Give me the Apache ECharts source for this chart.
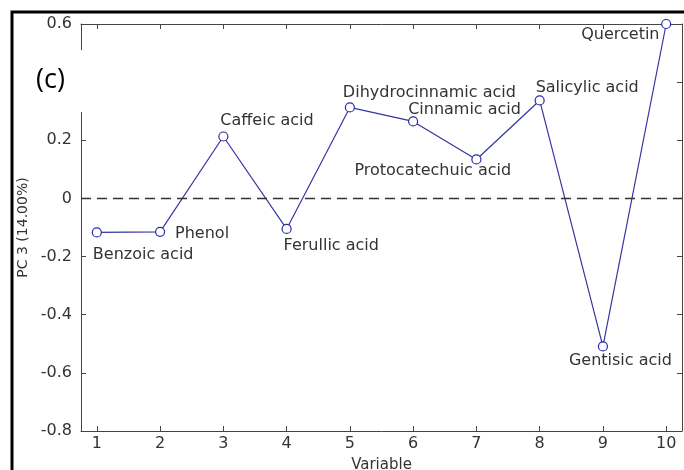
<!DOCTYPE html>
<html><head><meta charset="utf-8">
<script src="https://cdn.jsdelivr.net/npm/echarts@6/dist/echarts.min.js"></script>
<style>html,body{margin:0;padding:0;background:#fff}#c{width:684px;height:470px}</style>
</head><body><div id="c"></div>
<script>
var variables = [1, 2, 3, 4, 5, 6, 7, 8, 9, 10];
var names = ['Benzoic acid','Phenol','Caffeic acid','Ferullic acid','Dihydrocinnamic acid','Cinnamic acid','Protocatechuic acid','Salicylic acid','Gentisic acid','Quercetin'];
var pc3 = [-0.117, -0.115, 0.213, -0.105, 0.313, 0.265, 0.134, 0.337, -0.509, 0.600];
var yTicks = [-0.8, -0.6, -0.4, -0.2, 0, 0.2, 0.4, 0.6];
var labelOffsets = [[-4,22],[15,2],[-3,-16],[-3,17],[-7,-15],[-5,-12],[-122,11],[-4,-13],[-34,14],[-85,11]];

var chart = echarts.init(document.getElementById('c'));
var font = 'DejaVu Sans, sans-serif';
var fs = 16;
var data = variables.map(function(v,i){
  return {value:[v, pc3[i]], label:{show:true, formatter:names[i], position:'inside', align:'left', verticalAlign:'middle', offset:labelOffsets[i], color:'#333', fontSize:fs, fontFamily:font}};
});
function axLine(){ return {show:true, onZero:false, lineStyle:{color:'#444', width:1}}; }
function tick(cv){ var t = {show:true, inside:true, length:5, lineStyle:{color:'#444'}}; if(cv) t.customValues = cv; return t; }
chart.setOption({
  animation:false,
  grid:{left:81, right:2, top:24, bottom:39, containLabel:false, outerBoundsMode:'none'},
  xAxis:[
    {type:'value', min:0.75, max:10.25, position:'bottom',
      name:'Variable', nameLocation:'middle', nameGap:27, nameTextStyle:{color:'#333', fontSize:15, fontFamily:font},
      axisLine:axLine(), axisTick:tick(variables), splitLine:{show:false},
      axisLabel:{customValues:variables, color:'#333', fontSize:fs, fontFamily:font, margin:5}},
    {type:'value', min:0.75, max:10.25, position:'top',
      axisLine:axLine(), axisTick:tick(variables), splitLine:{show:false}, axisLabel:{show:false}}
  ],
  yAxis:[
    {type:'value', min:-0.8, max:0.6, interval:0.2, position:'left',
      name:'PC 3 (14.00%)', nameLocation:'middle', nameGap:43, nameTextStyle:{color:'#333', fontSize:14, fontFamily:font},
      axisLine:axLine(), axisTick:tick(), splitLine:{show:false},
      axisLabel:{color:'#333', fontSize:fs, fontFamily:font, margin:9, formatter:function(v){return Math.abs(v)<1e-9?'0':String(+v.toFixed(1));}}},
    {type:'value', min:-0.8, max:0.6, interval:0.2, position:'right',
      axisLine:axLine(), axisTick:tick(), splitLine:{show:false}, axisLabel:{show:false}}
  ],
  series:[{
    type:'line', data:data, symbol:'circle', symbolSize:9,
    lineStyle:{color:'#3535a0', width:1.2},
    itemStyle:{color:'#fff', borderColor:'#2a2aa8', borderWidth:1.2},
    markLine:{silent:true, symbol:'none', label:{show:false}, data:[{yAxis:0}],
      lineStyle:{color:'#333', type:[10,6], width:1.3}}
  }],
  graphic:[
    {type:'rect', shape:{x:30, y:50, width:62, height:62}, style:{fill:'#fff'}, z:100},
    {type:'text', x:36, y:80, style:{text:'(c)', fontSize:27, fontFamily:'Open Sans, sans-serif', fill:'#000', verticalAlign:'middle'}, z:101},
    {type:'rect', shape:{x:12, y:12, width:700, height:500}, style:{fill:'none', stroke:'#000', lineWidth:3}, z:102}
  ]
});
</script></body></html>
